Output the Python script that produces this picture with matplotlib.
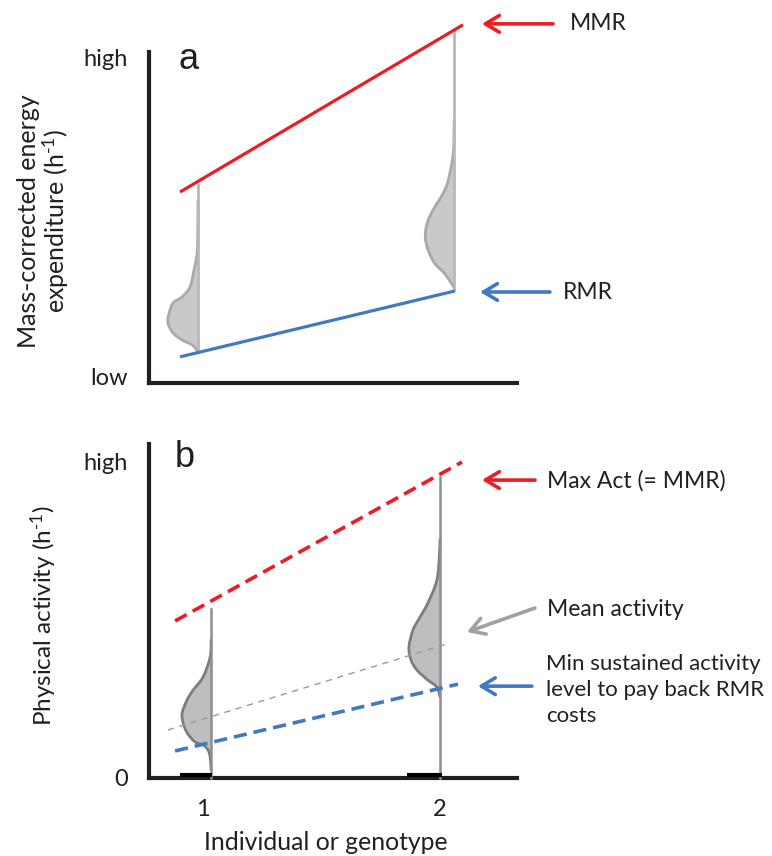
import numpy as np
import matplotlib
matplotlib.use("Agg")
import matplotlib.pyplot as plt
from matplotlib.path import Path
from matplotlib.patches import PathPatch

plt.rcParams['font.family'] = ['Lato', 'DejaVu Sans']
plt.rcParams['lines.scale_dashes'] = False
plt.rcParams['mathtext.fontset'] = 'custom'
plt.rcParams['mathtext.rm'] = 'Lato'
plt.rcParams['mathtext.it'] = 'Lato:italic'

TXT = '#231F20'
RED = '#ED1C24'
BLUE = '#4279C0'
FS = 17
FS_ANN = 16.5

# ---------------- data (panel a) ----------------
mmr_a_x = [0.903, 2.097]
mmr_a_y = [5.77, 10.82]
rmr_a_x = [0.903, 2.063]
rmr_a_y = [0.79, 2.78]
# distribution 1 (panel a): vertical baseline, profile heights and widths
d1a_x = 0.979
d1a_top, d1a_bot = 5.98, 0.94
d1a_y = [5.53, 4.62, 3.93, 3.41, 2.90, 2.60, 2.42, 2.11, 1.81, 1.51, 1.30, 1.15, 0.94]
d1a_w = [0.0, 0.001, 0.004, 0.017, 0.034, 0.068, 0.105, 0.122, 0.127, 0.105, 0.068, 0.025, 0.0]
# distribution 2 (panel a)
d2a_x = 2.06
d2a_top, d2a_bot = 10.66, 2.81
d2a_y = [7.95, 6.95, 6.13, 5.74, 5.23, 4.83, 4.41, 4.02, 3.63, 3.32, 3.02, 2.87]
d2a_w = [0.0, 0.004, 0.025, 0.046, 0.089, 0.114, 0.122, 0.110, 0.084, 0.042, 0.013, 0.0]

# ---------------- data (panel b) ----------------
max_b_x = [0.882, 2.093]
max_b_y = [4.70, 9.46]
mean_b_x = [0.852, 2.042]
mean_b_y = [1.44, 4.04]
min_b_x = [0.882, 2.076]
min_b_y = [0.81, 2.81]
d1b_x = 1.034
d1b_top = 5.06
d1b_y = [4.13, 3.62, 3.02, 2.63, 2.34, 1.95, 1.65, 1.35, 1.08, 0.99, 0.84, 0.63, 0.24]
d1b_w = [0.0, 0.004, 0.034, 0.076, 0.101, 0.122, 0.118, 0.101, 0.068, 0.034, 0.013, 0.004, 0.0]
d2b_x = 2.0
d2b_top = 9.01
d2b_y = [7.13, 6.74, 5.93, 5.24, 4.82, 4.43, 3.92, 3.53, 3.23, 2.93, 2.72, 2.43]
d2b_w = [0.0, 0.002, 0.013, 0.051, 0.084, 0.114, 0.131, 0.122, 0.097, 0.051, 0.013, 0.0]
zero_bars = [(0.903, 1.038), (1.861, 2.008)]

xticks_b = [1, 2]
xticklabels_b = ['1', '2']

fig = plt.figure(figsize=(7.72, 8.56), dpi=100)
W, H = 772, 856
def pos(l, t, r, b):
    return [l / W, 1 - b / H, (r - l) / W, (b - t) / H]

axa = fig.add_axes(pos(149, 52, 517, 383))
axb = fig.add_axes(pos(149, 444, 517, 778))

for ax in (axa, axb):
    ax.set_xlim(0.772, 2.325)
    ax.set_ylim(0, 10)
    for s in ('top', 'right'):
        ax.spines[s].set_visible(False)
    for s in ('left', 'bottom'):
        ax.spines[s].set_linewidth(3.0)
        ax.spines[s].set_color('#231F20')
        ax.spines[s].set_capstyle('projecting')
    ax.tick_params(length=0, labelsize=FS, labelcolor=TXT, pad=15)

def smooth_path(px, py):
    """Catmull-Rom curve through the read points, as cubic Bezier segments."""
    P = np.column_stack([px, py])
    n = len(P)
    verts = [P[0]]
    codes = [Path.MOVETO]
    for i in range(n - 1):
        p0 = P[i - 1] if i > 0 else P[i]
        p1, p2 = P[i], P[i + 1]
        p3 = P[i + 2] if i + 2 < n else P[i + 1]
        c1 = p1 + (p2 - p0) / 6.0
        c2 = p2 - (p3 - p1) / 6.0
        verts += [c1, c2, p2]
        codes += [Path.CURVE4] * 3
    return verts, codes

def dist(ax, x0, top, bot, ys, ws, fill, edge, vline, lw_e, lw_v):
    ys = np.asarray(ys); ws = np.asarray(ws)
    verts, codes = smooth_path(x0 - ws, ys)
    fverts = verts + [(x0, ys[-1]), (x0, ys[0]), (x0, ys[0])]
    fcodes = codes + [Path.LINETO, Path.LINETO, Path.CLOSEPOLY]
    ax.add_patch(PathPatch(Path(fverts, fcodes), facecolor=fill, edgecolor='none', zorder=2))
    ax.add_patch(PathPatch(Path(verts, codes), facecolor='none', edgecolor=edge, lw=lw_e,
                           joinstyle='round', capstyle='round', zorder=3))
    ax.plot([x0, x0], [bot, top], color=vline, lw=lw_v, zorder=3, clip_on=False)

# ---- panel a ----
axa.plot(mmr_a_x, mmr_a_y, color=RED, lw=2.3, clip_on=False, zorder=4, solid_capstyle='butt')
axa.plot(rmr_a_x, rmr_a_y, color=BLUE, lw=2.3, clip_on=False, zorder=4, solid_capstyle='butt')
dist(axa, d1a_x, d1a_top, d1a_bot, d1a_y, d1a_w, '#C9C9CB', '#A9A9AB', '#B8B8BA', 2.0, 2.0)
dist(axa, d2a_x, d2a_top, d2a_bot, d2a_y, d2a_w, '#C9C9CB', '#A9A9AB', '#B8B8BA', 2.0, 2.0)
axa.set_xticks([])
axa.set_yticks([0.21, 9.82])
axa.set_yticklabels(['low', 'high'])
axa.text(0.897, 9.5, 'a', family='Liberation Sans', fontsize=26, color=TXT, va='baseline', ha='left')

# ---- panel b ----
axb.plot(max_b_x, max_b_y, color=RED, lw=2.6, ls=(0, (9.5, 5)), clip_on=False, zorder=4)
axb.plot(mean_b_x, mean_b_y, color='#999999', lw=1.0, ls=(0, (4.5, 4)), clip_on=False, zorder=4)
axb.plot(min_b_x, min_b_y, color=BLUE, lw=2.6, ls=(0, (9.5, 5)), clip_on=False, zorder=4)
dist(axb, d1b_x, d1b_top, 0, d1b_y, d1b_w, '#BEBEBE', '#7D7D7D', '#8E8E8E', 2.0, 1.8)
dist(axb, d2b_x, d2b_top, 0, d2b_y, d2b_w, '#BEBEBE', '#7D7D7D', '#8E8E8E', 2.0, 1.8)
for x0, x1 in zero_bars:
    axb.plot([x0, x1], [0.1, 0.1], color='black', lw=3, solid_capstyle='butt', zorder=5)
axb.set_xticks(xticks_b)
axb.set_xticklabels(xticklabels_b)
axb.tick_params(axis='x', pad=15)
axb.set_yticks([0, 9.49])
axb.set_yticklabels(['0', 'high'])
axb.text(0.882, 9.3, 'b', family='Liberation Sans', fontsize=26, color=TXT, va='baseline', ha='left')

# ---- arrows & labels ----
def arrow(ax, tail, tip, color):
    ax.annotate('', xy=tip, xytext=tail, xycoords='data', textcoords='data',
                annotation_clip=False,
                arrowprops=dict(arrowstyle='->,head_length=0.5,head_width=0.3',
                                mutation_scale=20, color=color, lw=2.6,
                                shrinkA=0, shrinkB=0))

arrow(axa, (2.477, 10.85), (2.177, 10.85), RED)
axa.text(2.548, 10.85, 'MMR', fontsize=FS_ANN, color=TXT, va='center', ha='left', clip_on=False)
arrow(axa, (2.464, 2.75), (2.169, 2.75), BLUE)
axa.text(2.519, 2.72, 'RMR', fontsize=FS_ANN, color=TXT, va='center', ha='left', clip_on=False)

arrow(axb, (2.401, 8.92), (2.177, 8.92), RED)
axb.text(2.451, 8.90, 'Max Act (= MMR)', fontsize=FS_ANN, color=TXT, va='center', ha='left')
arrow(axb, (2.401, 5.09), (2.114, 4.37), '#A0A0A0')
axb.text(2.451, 5.03, 'Mean activity', fontsize=FS_ANN, color=TXT, va='center', ha='left')
arrow(axb, (2.388, 2.75), (2.160, 2.75), BLUE)
axb.text(2.447, 3.72, 'Min sustained activity\nlevel to pay back RMR\ncosts', fontsize=16,
         color=TXT, va='top', ha='left', linespacing=1.38)

fig.text(44 / W, 1 - 221 / H, 'Mass-corrected energy\nexpenditure (h$^{\\text{-1}}$)', rotation=90,
         fontsize=18, color=TXT, ha='center', va='center', linespacing=1.05)
fig.text(44 / W, 1 - 616 / H, 'Physical activity (h$^{\\text{-1}}$)', rotation=90,
         fontsize=17.5, color=TXT, ha='center', va='center')
fig.text(326 / W, 1 - 843 / H, 'Individual or genotype', fontsize=17.8, color=TXT,
         ha='center', va='center')

fig.savefig('out.png', dpi=100)
